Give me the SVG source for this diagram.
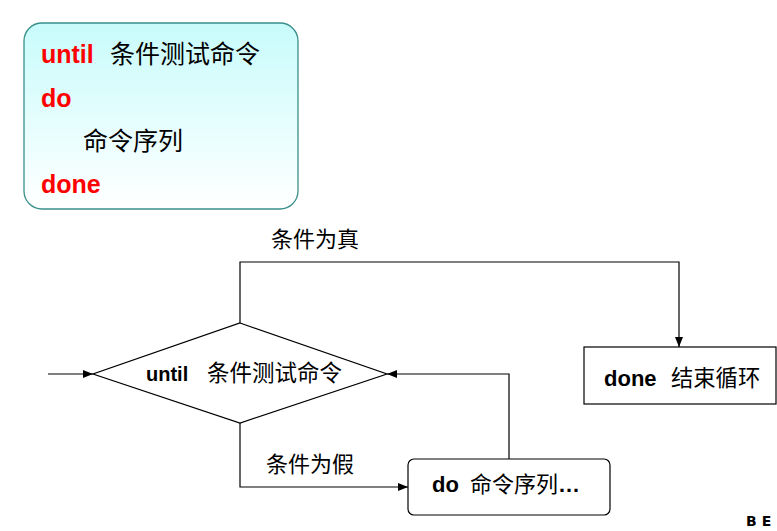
<svg xmlns="http://www.w3.org/2000/svg" width="777" height="531" viewBox="0 0 777 531">
<defs>
<linearGradient id="g" x1="0" y1="0" x2="0" y2="1">
<stop offset="0" stop-color="#c8fbfb"/>
<stop offset="1" stop-color="#ffffff"/>
</linearGradient>
<marker id="ah" viewBox="0 0 10 10" refX="10" refY="5" markerWidth="10" markerHeight="10" markerUnits="userSpaceOnUse" orient="auto">
<path d="M0,1 L10,5 L0,9 Z" fill="#000"/>
</marker>
<style>
.kw{font-family:"Liberation Sans","Noto Sans CJK SC",sans-serif;font-weight:bold;fill:#ff0000;font-size:25px}
.cj{font-family:"Noto Sans CJK SC","Liberation Sans",sans-serif;fill:#000}
.t{font-family:"Liberation Sans","Noto Sans CJK SC",sans-serif;fill:#000;font-size:22px}
.en{font-family:"Liberation Sans",sans-serif;font-weight:bold}
.shape{fill:#fff;stroke:#000;stroke-width:1.2}
.conn{fill:none;stroke:#000;stroke-width:1.2}
</style>
</defs>
<rect width="777" height="531" fill="#fff"/>

<g id="syntax">
<rect x="24" y="23" width="274" height="186" rx="18" ry="18" fill="url(#g)" stroke="#3a8f8a" stroke-width="1.3"/>
<text x="41" y="63" class="kw">until</text>
<text x="110" y="63" class="cj" font-size="25">条件测试命令</text>
<text x="41" y="107" class="kw">do</text>
<text x="83" y="150" class="cj" font-size="25">命令序列</text>
<text x="41" y="193" class="kw">done</text>
</g>

<g id="connectors">
<line x1="48" y1="374" x2="93" y2="374" class="conn" marker-end="url(#ah)"/>
<polyline points="240,323 240,262 679,262 679,347" class="conn" marker-end="url(#ah)"/>
<polyline points="240,423 240,487 408,487" class="conn" marker-end="url(#ah)"/>
<polyline points="509,459 509,374 387,374" class="conn" marker-end="url(#ah)"/>
</g>

<g id="label-true">
<text x="271" y="247" class="cj" font-size="22">条件为真</text>
</g>
<g id="label-false">
<text x="266" y="472" class="cj" font-size="22">条件为假</text>
</g>

<g id="until-node">
<polygon points="240,323 387,374 240,423 93,374" class="shape"/>
<text x="146" y="381" class="t"><tspan class="en" font-size="20">until</tspan><tspan class="cj" x="207" font-size="22.5">条件测试命令</tspan></text>
</g>

<g id="done-node">
<rect x="584" y="347" width="192" height="57" class="shape"/>
<text x="604" y="386" class="t"><tspan class="en">done</tspan><tspan class="cj" x="671" font-size="22.3">结束循环</tspan></text>
</g>

<g id="do-node">
<rect x="408" y="459" width="202" height="56" rx="6" ry="6" class="shape"/>
<text x="432" y="492" class="t"><tspan class="en">do</tspan><tspan class="cj" x="470" font-size="22">命令序列</tspan><tspan class="en">…</tspan></text>
</g>

<text x="746" y="526" font-family="'DejaVu Sans','Liberation Sans',sans-serif" font-weight="bold" font-size="14" letter-spacing="5" fill="#000">BE</text>
</svg>
